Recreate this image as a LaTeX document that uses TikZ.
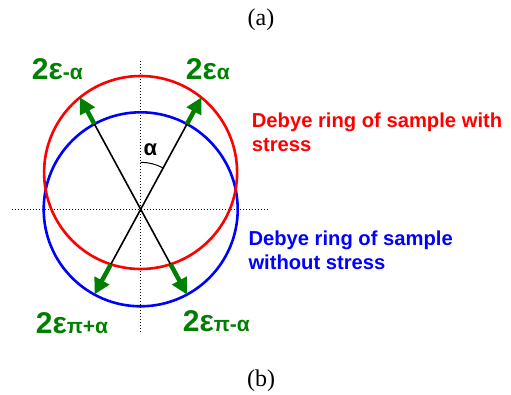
\documentclass[tikz,border=0pt]{standalone}
\usepackage{fontspec}
\setmainfont{Liberation Serif}
\newfontfamily\arialfont{Liberation Sans}
\usetikzlibrary{arrows.meta,calc}
\definecolor{dgreen}{RGB}{0,128,0}
\definecolor{pred}{RGB}{255,0,0}
\definecolor{pblue}{RGB}{0,0,255}
\begin{document}
\begin{tikzpicture}[x=1pt,y=1pt,
  ring/.style={line width=2.6pt},
  axisline/.style={black,line width=1pt,dotted},
  ray/.style={black,line width=1.6pt},
  garrow/.style={dgreen,line width=4.5pt,-{Triangle[length=16pt,width=16pt]}},
  glabel/.style={inner sep=0pt,anchor=base west,text=dgreen,font=\arialfont\bfseries\fontsize{30}{32}\selectfont},
  desc/.style={inner sep=0pt,anchor=base west,font=\arialfont\bfseries\fontsize{20.2}{24}\selectfont},
  captext/.style={inner sep=0pt,anchor=base,font=\fontsize{24}{28}\selectfont}]
\useasboundingbox (0,0) rectangle (511,394);
\coordinate (O) at (140.7,184.7);
\coordinate (R) at (140.6,221.5);
% axes
\coordinate (hl) at (11.7,184.7);
\coordinate (hr) at (269,184.7);
\coordinate (vt) at (140.7,333);
\coordinate (vb) at (140.7,60);
\draw[axisline] (hl) -- (hr);
\draw[axisline] (vt) -- (vb);
% rings
\draw[ring,pblue] (O) circle[radius=97];
\draw[ring,pred] (R) circle[radius=96.5];
% intersection points
\coordinate (urb) at ($(O)+(61.5:97)$);
\coordinate (urr) at ($(O)+(61.5:127.5)$);
\coordinate (ulb) at ($(O)+(118.5:97)$);
\coordinate (ulr) at ($(O)+(118.5:127.5)$);
\coordinate (llr) at ($(O)+(241.5:62.5)$);
\coordinate (llb) at ($(O)+(241.5:97)$);
\coordinate (lrr) at ($(O)+(298.5:62.5)$);
\coordinate (lrb) at ($(O)+(298.5:97)$);
% black rays
\draw[ray] (urb) -- (llr);
\draw[ray] (ulb) -- (lrr);
% angle arc
\coordinate (a0) at ($(O)+(90:47)$);
\draw[black,line width=1pt] (a0) arc[start angle=90,end angle=61.5,radius=47];
% green arrows
\draw[garrow] (urb) -- (urr);
\draw[garrow] (ulb) -- (ulr);
\draw[garrow] (llr) -- (llb);
\draw[garrow] (lrr) -- (lrb);
% labels
\node[glabel] (lul) at (31.7,314) {2ε\fontsize{21}{22}\selectfont-α};
\node[glabel] (lur) at (185.7,314) {2ε\fontsize{21}{22}\selectfont α};
\node[glabel] (lll) at (35.7,61) {2ε\fontsize{21}{22}\selectfont π+α};
\node[glabel] (llrt) at (182.7,63) {2ε\fontsize{21}{22}\selectfont π-α};
\node[inner sep=0pt,anchor=base west,font=\arialfont\bfseries\fontsize{22}{24}\selectfont] (alpha) at (143.5,238) {α};
\node[desc,text=pred] (r1) at (251.7,266.3) {Debye ring of sample with};
\node[desc,text=pred] (r2) at (251.7,242.3) {stress};
\node[desc,text=pblue] (b1) at (248.3,148.3) {Debye ring of sample};
\node[desc,text=pblue] (b2) at (248.3,124.7) {without stress};
\node[captext] (ca) at (261,368) {(a)};
\node[captext] (cb) at (261,7.3) {(b)};
\end{tikzpicture}
\end{document}
